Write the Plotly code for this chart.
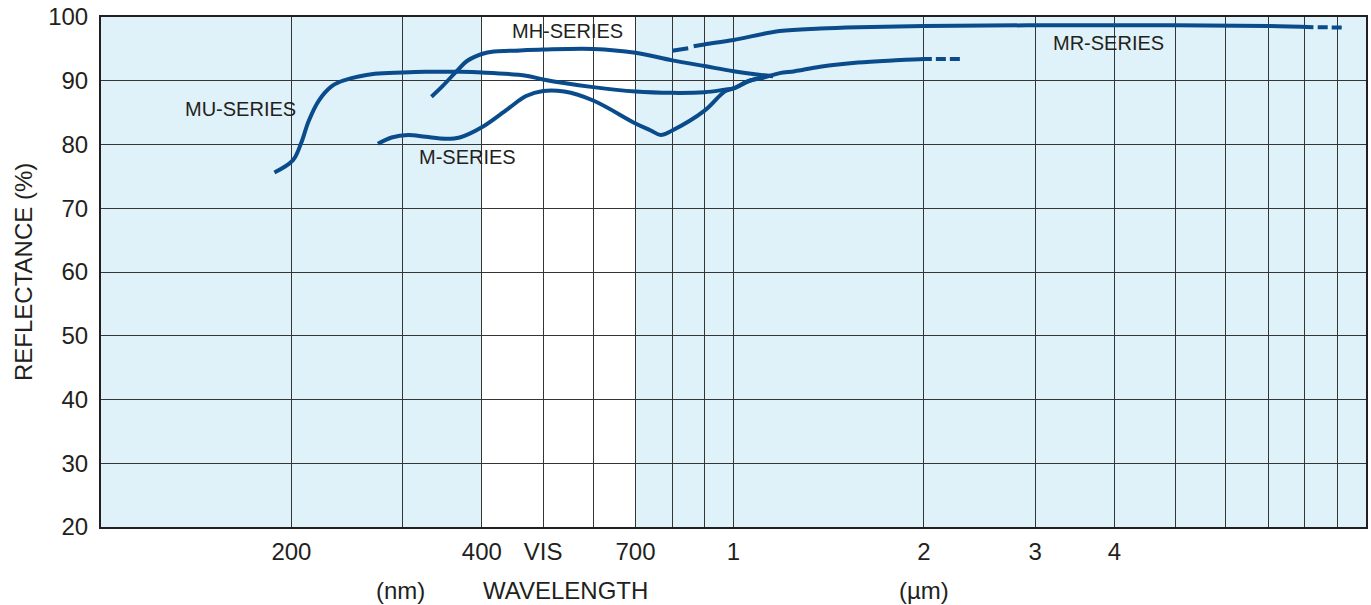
import numpy as np
import plotly.graph_objects as go

# ---------------- data ----------------
# wavelength in nm, reflectance in %
mu_wl = [188, 201, 207, 213, 221, 232, 243, 271, 300, 326, 370, 400, 470, 500, 600, 700, 800, 900, 968, 1000,
         1060, 1116, 1183, 1250, 1371, 1573, 1804, 2000, 2059]
mu_r = [75.6, 77.5, 80.1, 83.7, 86.9, 89.2, 90.1, 91.1, 91.3, 91.4, 91.4, 91.3, 90.8, 90.2, 89.0, 88.3, 88.1, 88.2,
        88.6, 88.8, 90.0, 90.5, 91.2, 91.5, 92.2, 92.85, 93.2, 93.4, 93.4]
mu_tail_wl = [2089, 2287]
mu_tail_r = [93.4, 93.4]

m_wl = [274, 288, 306, 326, 351, 369, 400, 440, 470, 500, 540, 600, 700, 740, 767, 800, 900, 968, 1000,
        1060, 1116]
m_r = [80.1, 81.1, 81.5, 81.2, 80.9, 81.1, 82.7, 85.6, 87.6, 88.4, 88.3, 86.9, 83.3, 82.2, 81.5, 82.2, 85.3,
       88.3, 88.8, 90.0, 90.5]

mh_wl = [333, 347, 365, 379, 400, 418, 444, 500, 600, 700, 800, 900, 1000, 1105, 1155]
mh_r = [87.5, 89.2, 91.5, 93.1, 94.2, 94.6, 94.7, 94.9, 95.0, 94.4, 93.2, 92.3, 91.5, 90.9, 90.7]

mr_head_wl = [800, 848]
mr_head_r = [94.7, 95.1]
mr_wl = [865, 900, 1000, 1183, 1371, 1573, 2000, 3000, 5000, 7000, 8258]
mr_r = [95.4, 95.7, 96.4, 97.8, 98.2, 98.4, 98.6, 98.7, 98.7, 98.6, 98.4]
mr_tail_wl = [8388, 9192]
mr_tail_r = [98.4, 98.35]

series_labels = ["MU-SERIES", "M-SERIES", "MH-SERIES", "MR-SERIES"]
label_wl = [166, 380, 547, 3912]
label_r = [85.6, 78.0, 97.8, 96.0]

grid_wl = [200, 300, 400, 500, 600, 700, 800, 900, 1000, 2000, 3000, 4000, 5000, 6000, 7000, 8000, 9000]
grid_text = ["200", "", "400", "VIS", "", "700", "", "", "1", "2", "3", "4", "", "", "", "", ""]

unit_text = ["(nm)", "WAVELENGTH", "(µm)"]
unit_wl = [298, 543, 2000]

vis_band = [400, 700]
y_ticks = [20, 30, 40, 50, 60, 70, 80, 90, 100]

# ---------------- styling ----------------
LINE = "#0a4b8c"
TXT = "#231f20"
FONT = "Liberation Sans, Arial, Helvetica, sans-serif"
W = 4

fig = go.Figure()


def add_line(x, y, dash="solid"):
    fig.add_trace(go.Scatter(x=x, y=y, mode="lines", showlegend=False, hoverinfo="skip",
                             line=dict(color=LINE, width=W, shape="spline", smoothing=1.0, dash=dash)))


add_line(mu_wl, mu_r)
add_line(mu_tail_wl, mu_tail_r, dash="10px,4px")
add_line(m_wl, m_r)
add_line(mh_wl, mh_r)
add_line(mr_head_wl, mr_head_r)
add_line(mr_wl, mr_r)
add_line(mr_tail_wl, mr_tail_r, dash="10px,4px")

# visible band (white) below the grid
fig.add_shape(type="rect", xref="x", yref="paper", x0=vis_band[0], x1=vis_band[1],
              y0=0, y1=1, fillcolor="white", line=dict(width=0), layer="below")

# series labels
for t, xw, yr in zip(series_labels, label_wl, label_r):
    fig.add_annotation(x=np.log10(xw), y=yr, xref="x", yref="y", text=t, showarrow=False,
                       font=dict(family=FONT, size=20, color=TXT), xanchor="center", yanchor="middle")

# second row of x labels
for t, xw in zip(unit_text, unit_wl):
    fig.add_annotation(x=np.log10(xw), y=0, xref="x", yref="paper", yshift=-63, text=t, showarrow=False,
                       font=dict(family=FONT, size=24, color=TXT), xanchor="center", yanchor="middle")

# y axis title
fig.add_annotation(x=0, y=0.5, xref="paper", yref="paper", xshift=-78, text="REFLECTANCE (%)", textangle=-90,
                   showarrow=False, font=dict(family=FONT, size=24, color=TXT), xanchor="center",
                   yanchor="middle")

fig.update_xaxes(type="log", range=[2, 4], tickmode="array", tickvals=grid_wl, ticktext=grid_text,
                 showgrid=True, gridcolor="#353535", gridwidth=1.3, zeroline=False,
                 showline=True, linecolor=TXT, linewidth=2, mirror=True,
                 ticks="outside", ticklen=2, tickcolor="rgba(0,0,0,0)",
                 tickfont=dict(family=FONT, size=24, color=TXT))
fig.update_yaxes(range=[20, 100], tickmode="array", tickvals=y_ticks,
                 showgrid=True, gridcolor="#353535", gridwidth=1.3, zeroline=False,
                 showline=True, linecolor=TXT, linewidth=2, mirror=True,
                 ticks="outside", ticklen=6, tickcolor="rgba(0,0,0,0)",
                 tickfont=dict(family=FONT, size=24, color=TXT))

fig.update_layout(width=1371, height=605, autosize=False,
                  margin=dict(l=101, r=3, t=16, b=78),
                  plot_bgcolor="#dff1f9", paper_bgcolor="white",
                  font=dict(family=FONT, color=TXT))

fig.write_html("out.html", config={"displayModeBar": False},
               post_script="document.body.style.margin='0';")
